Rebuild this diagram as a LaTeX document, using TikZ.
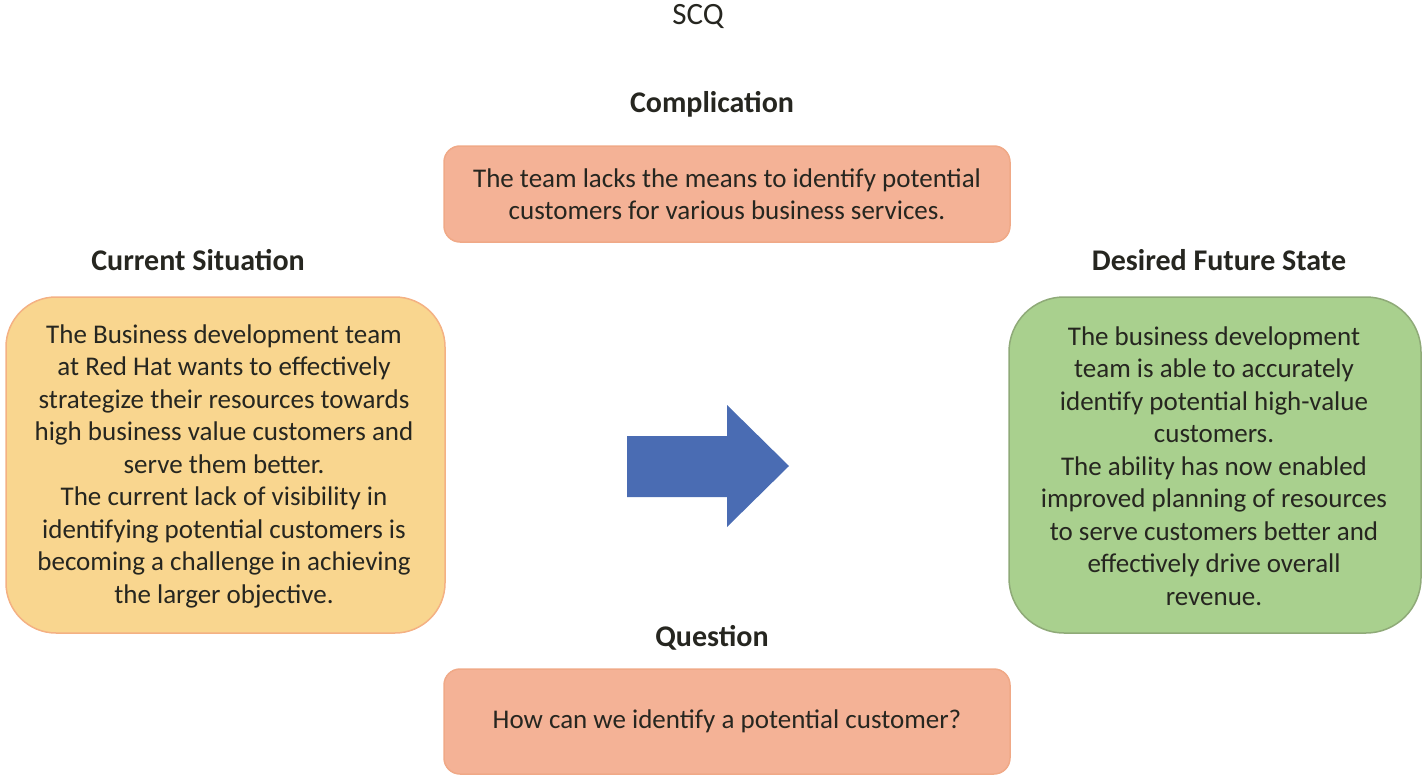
\documentclass[tikz,border=0pt]{standalone}
\usepackage{fontspec}
\setmainfont{Carlito}
\begin{document}
\definecolor{inktext}{HTML}{262620}
\definecolor{sitfill}{HTML}{F9D68F}
\definecolor{sitline}{HTML}{F4B183}
\definecolor{futfill}{HTML}{A9D08E}
\definecolor{futline}{HTML}{8FAA78}
\definecolor{salfill}{HTML}{F4B296}
\definecolor{salline}{HTML}{F0A987}
\definecolor{arrowblue}{HTML}{4A6CB3}
\begin{tikzpicture}[x=1pt,y=-1pt,
  body/.style={text=inktext,font=\fontsize{27}{32.5}\selectfont,align=center},
  heading/.style={text=inktext,font=\fontsize{30}{34}\selectfont\bfseries},
  panel/.style={draw,line width=1.5pt,rounded corners=#1},
]
\useasboundingbox (0,0) rectangle (1425,776);
% title
\node[text=inktext,font=\fontsize{31}{34}\selectfont] (title) at (698,16) {SCQ};
% headings
\node[heading] (hcomp) at (712,104) {Complication};
\node[heading] (hcur) at (198,260) {Current Situation};
\node[heading] (hfut) at (1219,260) {Desired Future State};
\node[heading] (hq) at (712,638) {Question};
% panels
\draw[panel=50pt,fill=sitfill,draw=sitline] (6,297) rectangle (445,633);
\draw[panel=55pt,fill=futfill,draw=futline] (1009,297) rectangle (1421,633);
\draw[panel=16pt,fill=salfill,draw=salline] (444,146) rectangle (1010,242);
\draw[panel=16pt,fill=salfill,draw=salline] (444,669) rectangle (1010,774);
% panel texts
\node[body] (tcur) at (224,466) {The Business development team\\at Red Hat wants to effectively\\strategize their resources towards\\high business value customers and\\serve them better.\\The current lack of visibility in\\identifying potential customers is\\becoming a challenge in achieving\\the larger objective.};
\node[body] (tfut) at (1214,466) {The business development\\team is able to accurately\\identify potential high-value\\customers.\\The ability has now enabled\\improved planning of resources\\to serve customers better and\\effectively drive overall\\revenue.};
\node[body] (tcomp) at (727,194) {The team lacks the means to identify potential\\customers for various business services.};
\node[body] (tq) at (727,721) {How can we identify a potential customer?};
% block arrow
\fill[arrowblue] (627,436) -- (727,436) -- (727,405) -- (789,466) -- (727,527) -- (727,497) -- (627,497) -- cycle;
\end{tikzpicture}
\end{document}
